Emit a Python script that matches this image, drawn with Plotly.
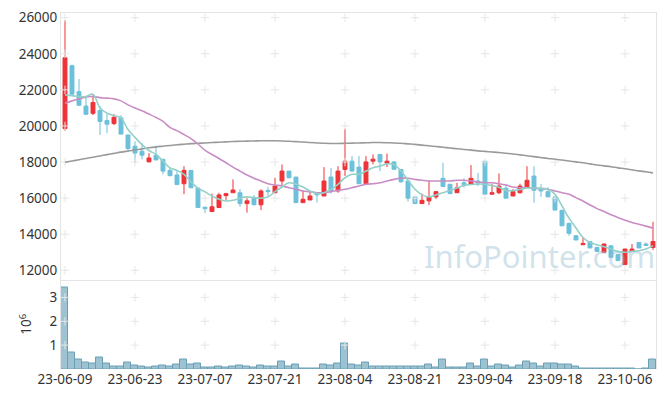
import plotly.graph_objects as go

dates = ["23-06-09",
 "23-06-12","23-06-13","23-06-14","23-06-15","23-06-16",
 "23-06-19","23-06-20","23-06-21","23-06-22","23-06-23",
 "23-06-26","23-06-27","23-06-28","23-06-29","23-06-30",
 "23-07-03","23-07-04","23-07-05","23-07-06","23-07-07",
 "23-07-10","23-07-11","23-07-12","23-07-13","23-07-14",
 "23-07-17","23-07-18","23-07-19","23-07-20","23-07-21",
 "23-07-24","23-07-25","23-07-26","23-07-27","23-07-28",
 "23-07-31","23-08-01","23-08-02","23-08-03","23-08-04",
 "23-08-07","23-08-08","23-08-09","23-08-10","23-08-11",
 "23-08-14","23-08-16","23-08-17","23-08-18","23-08-21",
 "23-08-22","23-08-23","23-08-24","23-08-25",
 "23-08-28","23-08-29","23-08-30","23-08-31","23-09-01","23-09-04",
 "23-09-05","23-09-06","23-09-07","23-09-08",
 "23-09-11","23-09-12","23-09-13","23-09-14","23-09-15","23-09-18",
 "23-09-19","23-09-20","23-09-21","23-09-22",
 "23-09-25","23-09-26","23-09-27","23-10-04","23-10-05","23-10-06",
 "23-10-10","23-10-11","23-10-12","23-10-13"]

opens = [19850,23340,21900,21100,20700,20850,20300,20130,20450,19500,
         18880,18600,18010,18380,18150,17540,17280,16800,17540,16560,
         15500,15260,15480,16140,16300,16300,15700,16000,15630,16430,
         16300,16950,17500,17170,15750,15900,16300,16120,17170,16400,
         17590,18050,17720,16800,18050,18420,17940,18010,17590,16950,
         16070,15700,15850,16070,17100,16770,16300,16850,16770,16950,
         18050,16220,16300,16550,16120,16300,16620,17225,16490,16360,
         16070,15330,14600,13920,13420,13600,13270,13000,13360,12870,
         12320,13050,13550,13460,13270]
highs = [25860,23400,22600,21650,21700,21100,20700,20650,20600,19520,
         19150,19050,18500,18900,18180,17700,17540,17770,17540,16560,
         15520,16250,16300,16300,17040,16500,16000,16180,16490,16620,
         17130,17870,17500,17170,16440,16360,16300,17720,17680,17770,
         19850,18330,18330,18330,18420,18420,18470,18050,17590,16950,
         16070,16250,16990,16400,17960,16770,16850,17100,17830,17400,
         18050,16800,17370,16800,16500,16800,17770,17770,16770,16600,
         16100,15330,14650,13950,13820,13620,13300,13480,13400,12900,
         13200,13460,13550,13550,14690]
lows = [19740,21700,21100,20600,20600,19500,19600,20050,19550,18550,
        17950,18150,18000,18100,17320,17200,16750,16220,16550,15450,
        15170,15230,15450,15880,16300,15520,15200,15620,15340,16120,
        16280,16660,17100,15750,15750,15900,15760,16120,16250,16300,
        17230,17480,16800,16790,17870,17500,17720,17580,16850,15810,
        15690,15700,15620,15950,16640,16250,16300,16580,16760,16670,
        16200,16220,16220,16000,16120,16250,16600,15750,16070,16070,
        15330,14450,13920,13680,13420,13240,13050,12980,12700,12540,
        12300,13050,13240,13350,13130]
closes = [23780,21760,21150,20650,21300,20250,20100,20480,19550,18750,
          18500,18380,18230,18120,17500,17250,16750,17540,16580,15480,
          15420,15520,16180,16250,16450,15700,15850,15630,16400,16360,
          16670,17500,17130,15750,15940,16120,16180,16950,16400,17500,
          18050,17500,16800,18010,18160,18010,18050,17600,16910,16000,
          15700,15880,16070,16360,16640,16250,16580,16740,17100,16840,
          16220,16300,16670,16000,16360,16670,16990,16440,16400,16070,
          15340,14470,14050,13680,13490,13240,13050,13460,12720,12540,
          13180,13180,13240,13380,13600]

ma_short = [21725,21680,21630,21630,21760,20990,20710,20570,20440,19800,
            19370,18970,18640,18420,18050,17680,17540,17320,16910,16545,
            16350,16120,15940,15845,15880,16000,16070,16030,16000,16070,
            16360,16620,16850,16770,16620,16400,16250,16300,16490,16770,
            17130,17320,17320,17500,17680,17775,17900,17870,17500,16990,
            16490,16180,16070,16180,16300,16420,16560,16700,16760,16780,
            16770,16700,16600,16420,16420,16480,16560,16560,16530,16500,
            16215,15570,14890,14350,13820,13550,13420,13310,13180,13050,
            13000,13050,13090,13180,13370]
ma_mid = [21260,21390,21500,21610,21630,21570,21540,21500,21390,21170,
          20990,20840,20660,20470,20250,19920,19740,19520,19300,19000,
          18650,18420,18200,17960,17720,17500,17280,17100,16950,16800,
          16730,16670,16580,16490,16400,16360,16300,16300,16360,16430,
          16490,16580,16670,16770,16800,16850,16950,17040,17100,17100,
          17040,16990,16950,16950,16950,16950,16990,16990,16950,16900,
          16850,16850,16800,16730,16620,16580,16580,16550,16530,16490,
          16400,16300,16215,16030,15845,15625,15420,15255,15075,14925,
          14780,14650,14560,14450,14340]
ma_long = [17990,18060,18130,18200,18270,18340,18410,18480,18550,18610,
           18670,18730,18790,18840,18880,18920,18960,18990,19020,19040,
           19060,19080,19100,19120,19140,19150,19160,19170,19180,19180,
           19180,19170,19150,19130,19110,19080,19060,19040,19030,19030,
           19040,19050,19060,19070,19080,19080,19070,19060,19040,19010,
           18980,18940,18900,18860,18820,18780,18740,18700,18660,18620,
           18590,18560,18530,18490,18450,18400,18350,18300,18250,18200,
           18160,18110,18060,18010,17960,17900,17840,17790,17740,17680,
           17630,17570,17510,17460,17400]

volume_m = [3.40,0.71,0.40,0.29,0.21,0.49,0.21,0.12,0.12,0.28,
            0.15,0.10,0.06,0.10,0.15,0.10,0.20,0.40,0.20,0.24,
            0.05,0.05,0.10,0.05,0.10,0.15,0.10,0.05,0.15,0.10,
            0.10,0.33,0.10,0.20,0.04,0.04,0.04,0.20,0.15,0.24,
            1.07,0.20,0.15,0.28,0.10,0.10,0.10,0.10,0.10,0.10,
            0.10,0.10,0.20,0.05,0.40,0.05,0.05,0.05,0.24,0.10,
            0.40,0.10,0.20,0.15,0.05,0.15,0.32,0.24,0.10,0.24,
            0.24,0.20,0.20,0.10,0.04,0.04,0.04,0.04,0.04,0.04,
            0.04,0.04,0.0,0.04,0.40]

x_ticks = ["23-06-09","23-06-23","23-07-07","23-07-21","23-08-04",
           "23-08-21","23-09-04","23-09-18","23-10-06"]
price_ticks = [12000,14000,16000,18000,20000,22000,24000,26000]
vol_ticks = [1,2,3]

RED = "#ee3339"
BLUE = "#6cc0d9"
GRID = "#e6e6e6"
AXLINE = "#e4e4e4"
FONT = dict(family="Noto Sans, Open Sans, sans-serif", size=13.5, color="#333333")

fig = go.Figure()

# cross-shaped grid marks at tick intersections
fig.add_trace(go.Scatter(
    x=[d for d in x_ticks for _ in price_ticks],
    y=[v for _ in x_ticks for v in price_ticks],
    mode="markers", xaxis="x", yaxis="y", hoverinfo="skip", showlegend=False,
    marker=dict(symbol="cross-thin", size=6, line=dict(color=GRID, width=1))))
fig.add_trace(go.Scatter(
    x=[d for d in x_ticks for _ in vol_ticks],
    y=[v for _ in x_ticks for v in vol_ticks],
    mode="markers", xaxis="x2", yaxis="y2", hoverinfo="skip", showlegend=False,
    marker=dict(symbol="cross-thin", size=6, line=dict(color=GRID, width=1))))

fig.add_trace(go.Candlestick(
    x=dates, open=opens, high=highs, low=lows, close=closes,
    increasing=dict(line=dict(color=RED, width=1), fillcolor=RED),
    decreasing=dict(line=dict(color=BLUE, width=1), fillcolor=BLUE),
    whiskerwidth=0, xaxis="x", yaxis="y", showlegend=False))

for vals, col in [(ma_long, "#9a9a9a"), (ma_mid, "#c98dc5"), (ma_short, "#93d0c8")]:
    fig.add_trace(go.Scatter(x=dates, y=vals, mode="lines", xaxis="x", yaxis="y",
                             line=dict(color=col, width=1.6, shape="spline"),
                             showlegend=False, hoverinfo="skip"))

fig.add_trace(go.Bar(x=dates, y=volume_m, xaxis="x2", yaxis="y2", showlegend=False,
                     marker=dict(color="#9dc3d3", line=dict(color="#6b9fb6", width=1))))

split = 90 / 358
xr = [-0.57, 84.43]
fig.update_layout(
    width=649, height=381,
    margin=dict(l=53, r=0, t=3, b=20),
    paper_bgcolor="white", plot_bgcolor="white",
    font=FONT, bargap=0, boxgap=0.2, showlegend=False,
    xaxis=dict(type="category", categoryorder="array", categoryarray=dates,
               range=xr, anchor="y", domain=[0, 1], showticklabels=False,
               showgrid=False, zeroline=False, showline=True, linecolor=AXLINE,
               mirror=True, ticks="", rangeslider=dict(visible=False)),
    yaxis=dict(domain=[split, 1], range=[11493, 26259], tickvals=price_ticks,
               ticktext=[str(v) for v in price_ticks], showgrid=False, zeroline=False,
               showline=True, linecolor=AXLINE, mirror=True, ticks="", tickfont=FONT,
               ticklabeloverflow="allow"),
    xaxis2=dict(type="category", categoryorder="array", categoryarray=dates,
                range=xr, anchor="y2", domain=[0, 1], tickvals=x_ticks, ticktext=x_ticks,
                showgrid=False, zeroline=False, showline=False, ticks="", tickfont=FONT,
                ticklabeloverflow="allow", rangeslider=dict(visible=False)),
    yaxis2=dict(domain=[0, split], range=[0, 3.75], tickvals=vol_ticks,
                ticktext=[str(v) for v in vol_ticks], showgrid=False, zeroline=False,
                showline=True, linecolor=AXLINE, mirror=True, ticks="", tickfont=FONT,
                ticklabeloverflow="allow",
                title=dict(text="10<sup>6</sup>", font=FONT, standoff=14)),
    annotations=[dict(text="InfoPointer.com", xref="paper", yref="paper",
                      x=(540 - 61) / 596, y=(369 - 255) / 358, xanchor="center",
                      yanchor="middle", showarrow=False,
                      font=dict(family="Noto Sans, sans-serif", size=31,
                                color="rgba(150,190,210,0.45)"))],
)

fig.write_html("out.html")
